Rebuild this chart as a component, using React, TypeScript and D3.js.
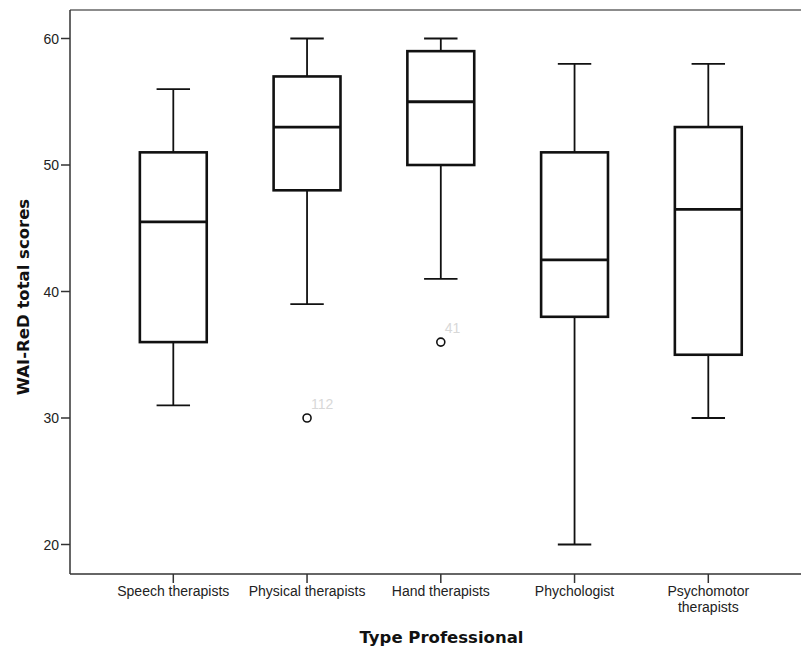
import React from "react";
import * as d3 from "d3";

const categories = ["Speech therapists", "Physical therapists", "Hand therapists", "Phychologist", "Psychomotor therapists"];
const categoryLines = [["Speech therapists"], ["Physical therapists"], ["Hand therapists"], ["Phychologist"], ["Psychomotor", "therapists"]];
const whiskerHigh = [56, 60, 60, 58, 58];
const q3 = [51, 57, 59, 51, 53];
const median = [45.5, 53, 55, 42.5, 46.5];
const q1 = [36, 48, 50, 38, 35];
const whiskerLow = [31, 39, 41, 20, 30];
const outlierCategory = ["Physical therapists", "Hand therapists"];
const outlierValue = [30, 36];
const outlierLabel = ["112", "41"];
const yTicks = [20, 30, 40, 50, 60];

const W = 801;
const H = 650;
const left = 70;
const top = 10;
const bottom = 574;
const right = 801;

export default function App() {
  const y = d3.scaleLinear().domain([20, 60]).range([544.5, 38.5]);
  const x = d3.scalePoint<string>().domain(categories).range([173.3, 708.3]);
  const step = x.step();
  const boxW = step * 0.5;
  const capW = step * 0.25;
  const tickFont = "'Liberation Sans', Arial, sans-serif";
  const titleFont = "'DejaVu Sans', sans-serif";

  return (
    <svg width={W} height={H} style={{ position: "absolute", left: 0, top: 0, background: "#fff" }}>
      <rect x={0} y={0} width={W} height={H} fill="#fff" />
      {/* frame */}
      <line x1={left} x2={right} y1={top} y2={top} stroke="#666" strokeWidth={1.5} />
      <line x1={left} x2={left} y1={top} y2={bottom} stroke="#333" strokeWidth={1.5} />
      <line x1={left} x2={right} y1={bottom} y2={bottom} stroke="#333" strokeWidth={1.5} />
      {/* y ticks */}
      {yTicks.map((t) => (
        <g key={t}>
          <line x1={left - 9} x2={left} y1={y(t)} y2={y(t)} stroke="#333" strokeWidth={1.5} />
          <text x={left - 11} y={y(t)} dy="0.36em" textAnchor="end" fontFamily={tickFont} fontSize={14} fill="#222">
            {t}
          </text>
        </g>
      ))}
      {/* x ticks */}
      {categories.map((c, i) => (
        <g key={c}>
          <line x1={x(c)} x2={x(c)} y1={bottom} y2={bottom + 9} stroke="#333" strokeWidth={1.5} />
          {categoryLines[i].map((l, j) => (
            <text key={j} x={x(c)} y={596 + j * 16} textAnchor="middle" fontFamily={tickFont} fontSize={14} fill="#222">
              {l}
            </text>
          ))}
        </g>
      ))}
      {/* boxes */}
      {categories.map((c, i) => {
        const cx = x(c) as number;
        return (
          <g key={c}>
            <line x1={cx} x2={cx} y1={y(whiskerHigh[i])} y2={y(q3[i])} stroke="#111" strokeWidth={1.8} />
            <line x1={cx} x2={cx} y1={y(q1[i])} y2={y(whiskerLow[i])} stroke="#111" strokeWidth={1.8} />
            <line x1={cx - capW / 2} x2={cx + capW / 2} y1={y(whiskerHigh[i])} y2={y(whiskerHigh[i])} stroke="#111" strokeWidth={1.8} />
            <line x1={cx - capW / 2} x2={cx + capW / 2} y1={y(whiskerLow[i])} y2={y(whiskerLow[i])} stroke="#111" strokeWidth={1.8} />
            <rect x={cx - boxW / 2} y={y(q3[i])} width={boxW} height={y(q1[i]) - y(q3[i])} fill="#fff" stroke="#111" strokeWidth={2.6} />
            <line x1={cx - boxW / 2} x2={cx + boxW / 2} y1={y(median[i])} y2={y(median[i])} stroke="#111" strokeWidth={2.8} />
          </g>
        );
      })}
      {/* outliers */}
      {outlierCategory.map((c, i) => {
        const cx = x(c) as number;
        const cy = y(outlierValue[i]);
        return (
          <g key={i}>
            <circle cx={cx} cy={cy} r={4} fill="none" stroke="#111" strokeWidth={1.6} />
            <text x={cx + 4} y={cy - 9} fontFamily={tickFont} fontSize={14} fill="#d8d8d8">
              {outlierLabel[i]}
            </text>
          </g>
        );
      })}
      {/* axis titles */}
      <text x={441.5} y={643} textAnchor="middle" fontFamily={titleFont} fontWeight="bold" fontSize={16.5} fill="#111">
        Type Professional
      </text>
      <text
        transform={`translate(29,297) rotate(-90)`}
        textAnchor="middle"
        fontFamily={titleFont}
        fontWeight="bold"
        fontSize={16.5}
        fill="#111"
      >
        WAI-ReD total scores
      </text>
    </svg>
  );
}
